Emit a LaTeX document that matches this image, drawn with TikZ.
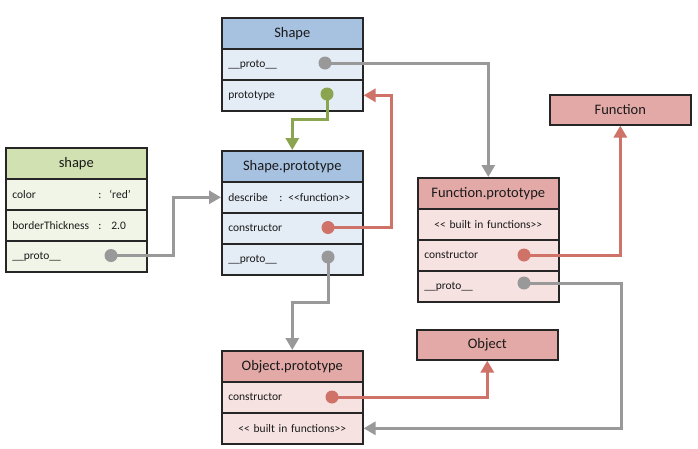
\documentclass[tikz,border=0pt]{standalone}
\usepackage{fontspec}
\setmainfont{Carlito}
\usetikzlibrary{arrows.meta}
\definecolor{blueH}{HTML}{A7C2E1}
\definecolor{blueR}{HTML}{E4ECF6}
\definecolor{greenH}{HTML}{D2E1B2}
\definecolor{greenR}{HTML}{F1F5E7}
\definecolor{redH}{HTML}{E3A9A7}
\definecolor{redR}{HTML}{F6E2E1}
\definecolor{lineG}{HTML}{999999}
\definecolor{lineR}{HTML}{CF7369}
\definecolor{lineGr}{HTML}{8BA450}
\definecolor{txt}{HTML}{1A1A1A}
\begin{document}
\begin{tikzpicture}[x=1pt,y=-1pt,
  cell/.style={draw=black!85, line width=1.6pt, minimum width=141pt, minimum height=31pt,
    anchor=north west, inner ysep=0pt, text=txt},
  hdr/.style={cell, font=\fontsize{14.5}{16}\selectfont},
  rowl/.style={cell, font=\fontsize{11.5}{13}\selectfont, text width=128pt, inner xsep=6.5pt, align=left},
  rowc/.style={cell, font=\fontsize{11.5}{13}\selectfont, text width=128pt, inner xsep=6.5pt, align=center},
  dot/.style={circle, minimum size=13pt, inner sep=0pt, draw=none},
  conn/.style={line width=3pt, -{Triangle[width=13pt,length=12pt]}},
]
\useasboundingbox[fill=white] (0,0) rectangle (698,448);

% Shape
\node[hdr, fill=blueH] (sh-h) at (221,17) {Shape};
\node[rowl, fill=blueR] (sh-pr) at (221,48) {\_\_proto\_\_};
\node[rowl, fill=blueR] (sh-pt) at (221,79) {prototype};

% shape
\node[hdr, fill=greenH] (s-h) at (5,147) {shape};
\node[rowl, fill=greenR] (s-c) at (5,178) {\makebox[86pt][l]{color}\makebox[11pt][l]{:}‘red’};
\node[rowl, fill=greenR] (s-b) at (5,209) {\makebox[86pt][l]{borderThickness}\makebox[13pt][l]{:}2.0};
\node[rowl, fill=greenR] (s-p) at (5,240) {\_\_proto\_\_};

% Shape.prototype
\node[hdr, fill=blueH] (spp-h) at (221,150) {Shape.prototype};
\node[rowl, fill=blueR] (spp-d) at (221,181) {\makebox[51pt][l]{describe}\makebox[9pt][l]{:}<{}<function>{}>};
\node[rowl, fill=blueR] (spp-c) at (221,212) {constructor};
\node[rowl, fill=blueR] (spp-p) at (221,243) {\_\_proto\_\_};

% Function.prototype
\node[hdr, fill=redH] (fp-h) at (417,177) {Function.prototype};
\node[rowc, fill=redR] (fp-b) at (417,208) {<{}< built in functions>{}>};
\node[rowl, fill=redR] (fp-c) at (417,239) {constructor};
\node[rowl, fill=redR] (fp-p) at (417,270) {\_\_proto\_\_};

% Object.prototype
\node[hdr, fill=redH] (op-h) at (221,350) {Object.prototype};
\node[rowl, fill=redR] (op-c) at (221,381) {constructor};
\node[rowc, fill=redR] (op-b) at (221,412) {<{}< built in functions>{}>};

% Function, Object
\node[hdr, fill=redH, minimum height=30pt] (fn) at (549,94) {Function};
\node[hdr, fill=redH, minimum height=30pt] (obj) at (416,329) {Object};

% dots
\node[dot, fill=lineG] (dShPr) at (325,63) {};
\node[dot, fill=lineGr] (dShPt) at (327,94) {};
\node[dot, fill=lineG] (dSP) at (111,255.5) {};
\node[dot, fill=lineR] (dSppC) at (328,227.5) {};
\node[dot, fill=lineG] (dSppP) at (328,257) {};
\node[dot, fill=lineR] (dFpC) at (524,255) {};
\node[dot, fill=lineG] (dFpP) at (524,283) {};
\node[dot, fill=lineR] (dOpC) at (332,397) {};

\coordinate (k1) at (391,0);
\coordinate (k2) at (173,0);
\coordinate (k3) at (621,0);

% connectors
\draw[conn, lineG] (dShPr.center) -| (fp-h.north);
\draw[conn, lineGr] (dShPt.center) -- ++(0,25) -| (spp-h.north);
\draw[conn, lineR] (dSppC.center) -| (k1 |- sh-pt.east) -- (sh-pt.east);
\draw[conn, lineG] (dSP.center) -| (k2 |- spp-d.west) -- (spp-d.west);
\draw[conn, lineG] (dSppP.center) -- ++(0,45) -| (op-h.north);
\draw[conn, lineR] (dFpC.center) -| (fn.south);
\draw[conn, lineG] (dFpP.center) -| (k3 |- op-b.east) -- (op-b.east);
\draw[conn, lineR] (dOpC.center) -| (obj.south);
\end{tikzpicture}
\end{document}
